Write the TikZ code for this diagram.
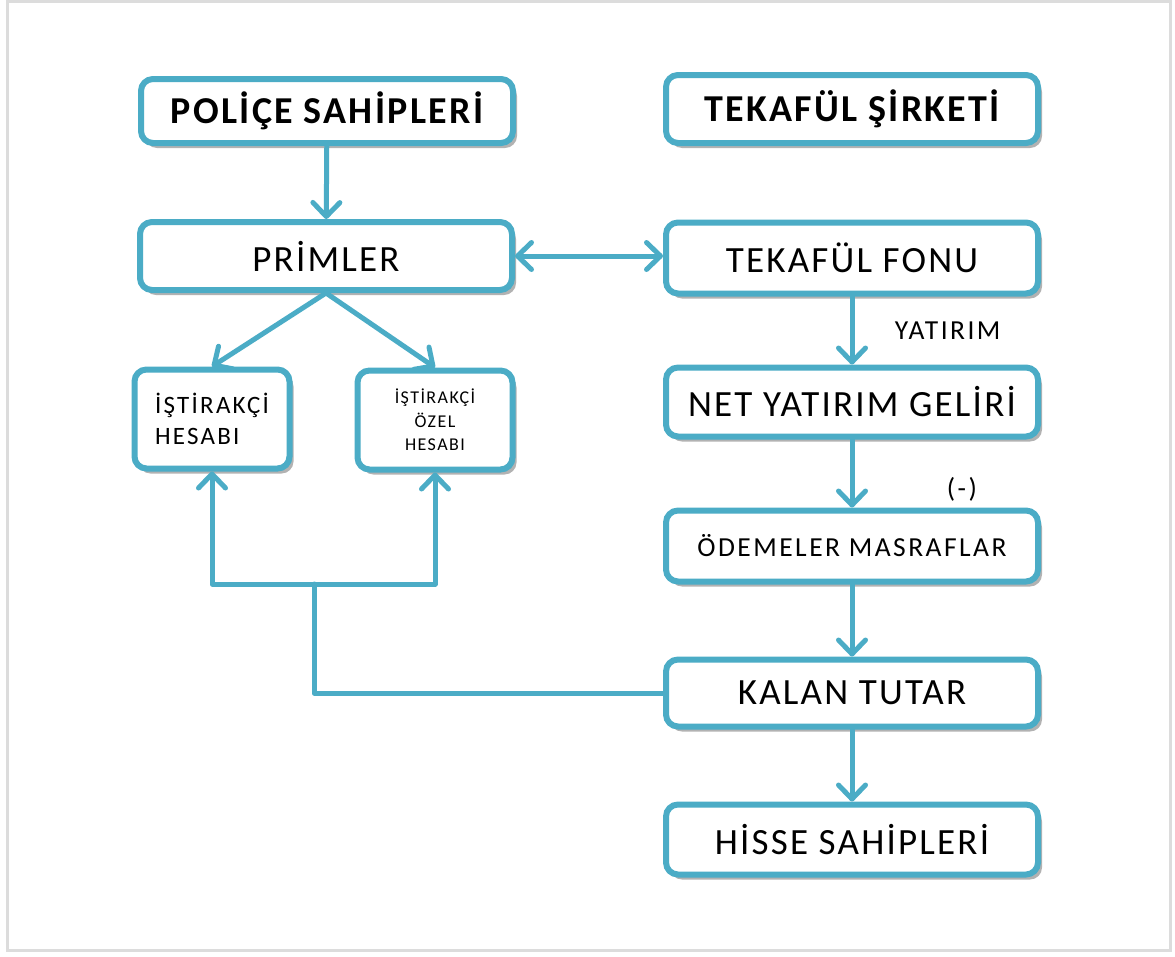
\documentclass[tikz,border=0pt]{standalone}
\usepackage{fontspec}
\setmainfont{Carlito}
\usetikzlibrary{arrows.meta,positioning,shadows}

\definecolor{tekafulmavi}{HTML}{4BACC6}
\definecolor{cerceve}{HTML}{DCDCDC}

\begin{document}
\begin{tikzpicture}[
        x = 1pt, y = -1pt,
        > = {Straight Barb[length=14pt, width=27pt, round]},
        node distance = 68pt,
        kutu/.style = {
                draw = tekafulmavi,
                line width = 6pt,
                rounded corners = 12pt,
                fill = white,
                align = center,
                minimum width = 372pt,
                minimum height = 68pt,
                drop shadow = {shadow xshift=4pt, shadow yshift=-5pt,
                               fill=black, opacity=0.3}
        },
        kucukkutu/.style = {
                kutu,
                minimum width = 155pt,
                minimum height = 99pt
        },
        ok/.style = {
                draw = tekafulmavi,
                line width = 5pt,
                line cap = round,
                line join = round
        },
        buyuk/.style = {font=\fontsize{37}{40}\selectfont\addfontfeatures{LetterSpace=6}},
        kalin/.style = {font=\bfseries\fontsize{38}{40}\selectfont\addfontfeatures{LetterSpace=6}},
        orta/.style = {font=\fontsize{27.5}{30}\selectfont\addfontfeatures{LetterSpace=9}}
        ]

        % sayfa ve cerceve
        \useasboundingbox (0,0) rectangle (1175,956);
        \draw[cerceve, line width=3pt] (7,1) rectangle (1170,950);

        % sol taraf
        \node[kutu, kalin, minimum height=64pt] (police) at (327,111) {POLİÇE SAHİPLERİ};
        \node[kutu, buyuk] (primler) at (326,256) {PRİMLER};
        \node[kucukkutu, align=left,
              font=\fontsize{25}{31}\selectfont\addfontfeatures{LetterSpace=9}]
              (istirak) at (212,419) {İŞTİRAKÇİ\\HESABI};
        \node[kucukkutu,
              font=\fontsize{18}{23.5}\selectfont\addfontfeatures{LetterSpace=8}]
              (ozel) at (435,420) {İŞTİRAKÇİ\\ÖZEL\\HESABI};

        % sag taraf
        \node[kutu, kalin] (sirket) at (852,109) {TEKAFÜL ŞİRKETİ};
        \node[kutu, buyuk, minimum height=71pt] (fonu) at (852,258) {TEKAFÜL FONU};
        \node[kutu, buyuk, minimum height=69pt] (gelir) [below=of fonu] {NET YATIRIM GELİRİ};
        \node[kutu, orta, minimum height=71pt] (masraf) [below=of gelir] {ÖDEMELER MASRAFLAR};
        \node[kutu, buyuk, minimum height=67pt] (kalan) [below=72pt of masraf] {KALAN TUTAR};
        \node[kutu, buyuk, minimum height=70pt] (hisse) [below=72pt of kalan] {HİSSE SAHİPLERİ};

        \coordinate (ayrim) at (314,584);

        % baglantilar
        \draw[ok, ->] (police) -- (primler);
        \draw[ok, ->] (primler.south) -- (istirak.north);
        \draw[ok, ->] (primler.south) -- (ozel.north);
        \draw[ok, <->] (primler.east) -- (fonu.west |- primler.east);
        \draw[ok, ->] (fonu) -- (gelir)
                node[midway, right=37pt, orta] (yatirim) {YATIRIM};
        \draw[ok, ->] (gelir) -- (masraf)
                node[pos=0.74, right=89pt, orta] (eksi) {(-)};
        \draw[ok, ->] (masraf) -- (kalan);
        \draw[ok, ->] (kalan) -- (hisse);
        \draw[ok] (kalan.west) -| (ayrim);
        \draw[ok, ->] (ayrim) -| (istirak.south);
        \draw[ok, ->] (ayrim) -| (ozel.south);
\end{tikzpicture}
\end{document}
